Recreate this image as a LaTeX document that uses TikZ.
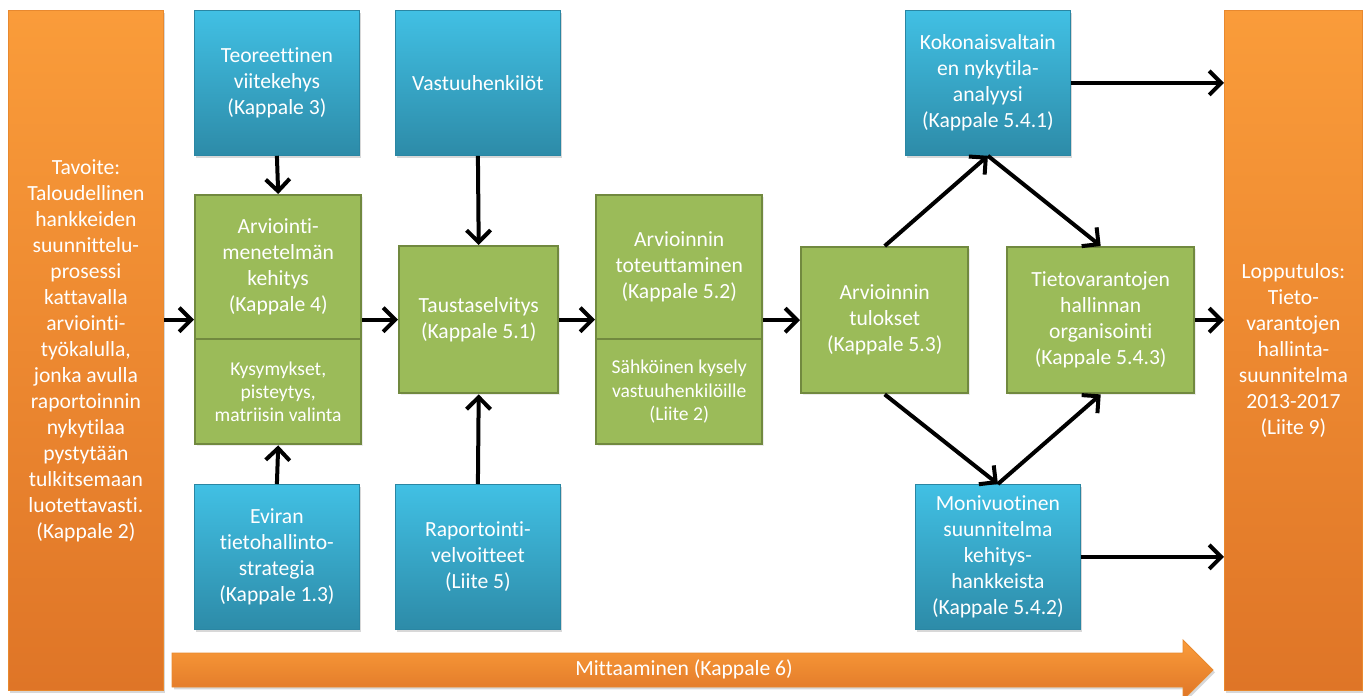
\documentclass[tikz,border=0pt]{standalone}
\usepackage{fontspec}
\setmainfont[Ligatures=NoCommon]{Carlito}
\usetikzlibrary{arrows.meta,shadows}
\definecolor{orangetop}{HTML}{FA9C3A}
\definecolor{orangebot}{HTML}{DF7527}
\definecolor{orangeedge}{HTML}{E8892F}
\definecolor{bluetop}{HTML}{41C0E4}
\definecolor{bluebot}{HTML}{2D8BA8}
\definecolor{blueedge}{HTML}{2A86A3}
\definecolor{greenfill}{HTML}{9BBB59}
\definecolor{greenedge}{HTML}{71893F}

\begin{document}
\begin{tikzpicture}[x=0.5pt,y=-0.5pt,
    every node/.style={font=\fontsize{10.8}{13}\selectfont,text=white,align=center,inner sep=0pt,anchor=north west},
    small/.style={font=\fontsize{9.8}{11.7}\selectfont},
    bluebox/.style={draw=blueedge,top color=bluetop,bottom color=bluebot,
      minimum width=82.5pt,minimum height=72.5pt,
      drop shadow={opacity=0.3,shadow xshift=1pt,shadow yshift=-1.2pt}},
    greenbox/.style={draw=greenedge,line width=1.2pt,fill=greenfill,
      drop shadow={opacity=0.15,shadow xshift=0.8pt,shadow yshift=-0.8pt}},
    goalbox/.style={draw=orangeedge,top color=orangetop,bottom color=orangebot,
      minimum height=340pt,
      drop shadow={opacity=0.3,shadow xshift=1pt,shadow yshift=-1.2pt}},
    flow/.style={line width=2pt,-{Straight Barb[length=6pt,width=12pt,line width=2pt]}}]
    \useasboundingbox (0,0) rectangle (1363,695);
    \fill[white] (0,0) rectangle (1363,695);

    \path[top color=orangetop,bottom color=orangebot,draw=orangeedge,
      drop shadow={opacity=0.3,shadow xshift=1pt,shadow yshift=-1.2pt}]
      (172,653) -- (1183,653) -- (1183,640) -- (1213,670) -- (1183,700)
      -- (1183,687) -- (172,687) -- cycle;
    \node[anchor=center] (mitt) at (684,669) {Mittaaminen (Kappale 6)};

    \node[goalbox,minimum width=77.5pt] (goal) at (8,10) {Tavoite:\\Taloudellinen\\hankkeiden\\suunnittelu-\\prosessi\\kattavalla\\arviointi-\\työkalulla,\\jonka avulla\\raportoinnin\\nykytilaa\\pystytään\\tulkitsemaan\\luotettavasti.\\(Kappale 2)};
    \node[goalbox,minimum width=69pt] (lop) at (1224,10) {Lopputulos:\\Tieto-\\varantojen\\hallinta-\\suunnitelma\\2013-2017\\(Liite 9)};

    \node[bluebox] (teo) at (194,10) {Teoreettinen\\viitekehys\\(Kappale 3)};
    \node[bluebox] (vas) at (395,10) {Vastuuhenkilöt};
    \node[bluebox] (evi) at (194,484) {Eviran\\tietohallinto-\\strategia\\(Kappale 1.3)};
    \node[bluebox] (rap) at (395,484) {Raportointi-\\velvoitteet\\(Liite 5)};
    \node[bluebox] (kok) at (905,10) {Kokonaisvaltain\\en nykytila-\\analyysi\\(Kappale 5.4.1)};
    \node[bluebox] (mon) at (915,484) {Monivuotinen\\suunnitelma\\kehitys-\\hankkeista\\(Kappale 5.4.2)};

    \node[greenbox,minimum width=83pt,minimum height=72pt] (arv) at (194,194) {Arviointi-\\menetelmän\\kehitys\\(Kappale 4)};
    \node[greenbox,small,minimum width=83pt,minimum height=52.5pt] (arvlow) at (194,338) {Kysymykset,\\pisteytys,\\matriisin valinta};
    \node[greenbox,minimum width=79.5pt,minimum height=73.5pt] (taus) at (398,245) {Taustaselvitys\\(Kappale 5.1)};
    \node[greenbox,minimum width=83pt,minimum height=72pt] (tot) at (595,194) {Arvioinnin\\toteuttaminen\\(Kappale 5.2)};
    \node[greenbox,small,minimum width=83pt,minimum height=52.5pt] (totlow) at (595,338) {Sähköinen kysely\\vastuuhenkilöille\\(Liite 2)};
    \node[greenbox,minimum width=83.5pt,minimum height=73pt] (tul) at (800,246) {Arvioinnin\\tulokset\\(Kappale 5.3)};
    \node[greenbox,minimum width=93.5pt,minimum height=73pt] (tie) at (1006,246) {Tietovarantojen\\hallinnan\\organisointi\\(Kappale 5.4.3)};

    \draw[flow] (goal.east |- taus.west) -- (arv.west |- taus.west);
    \draw[flow] (arv.east |- taus.west) -- (taus.west);
    \draw[flow] (taus.east) -- (tot.west |- taus.east);
    \draw[flow] (tot.east |- tul.west) -- (tul.west);
    \draw[flow] (tie.east) -- (lop.west |- tie.east);
    \draw[flow] (teo.south) -- (arv.north);
    \draw[flow] (vas.south) -- (taus.north);
    \draw[flow] (evi.north) -- (arvlow.south);
    \draw[flow] (rap.north) -- (taus.south);
    \draw[flow] (tul.north) -- (kok.south);
    \draw[flow] (kok.south) -- (tie.north);
    \draw[flow] (tul.south) -- (mon.north);
    \draw[flow] (mon.north) -- (tie.south);
    \draw[flow] (kok.east) -- (lop.west |- kok.east);
    \draw[flow] (mon.east) -- (lop.west |- mon.east);
\end{tikzpicture}
\end{document}
